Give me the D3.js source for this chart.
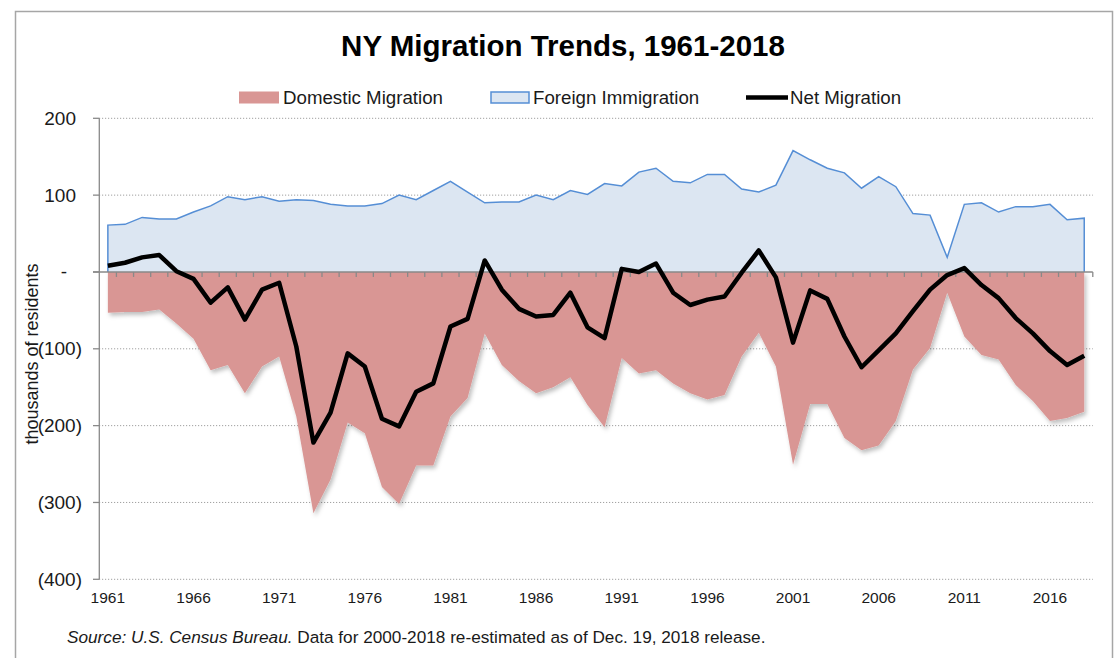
<!DOCTYPE html>
<html lang="en">
<head>
    <meta charset="UTF-8">
    <title>NY Migration Trends</title>
    <script src="https://d3js.org/d3.v7.min.js"></script>
    <style>
        body {
            margin: 0;
            padding: 0;
            background-color: #fff;
            font-family: "Liberation Sans", Arial, sans-serif;
        }
        svg {
            display: block;
        }
    </style>
</head>
<body>
    <svg id="chart" width="1119" height="658"></svg>
    <script>
        const years = [1961, 1962, 1963, 1964, 1965, 1966, 1967, 1968, 1969, 1970,
            1971, 1972, 1973, 1974, 1975, 1976, 1977, 1978, 1979, 1980,
            1981, 1982, 1983, 1984, 1985, 1986, 1987, 1988, 1989, 1990,
            1991, 1992, 1993, 1994, 1995, 1996, 1997, 1998, 1999, 2000,
            2001, 2002, 2003, 2004, 2005, 2006, 2007, 2008, 2009, 2010,
            2011, 2012, 2013, 2014, 2015, 2016, 2017, 2018];

        // thousands of residents
        const domestic = [-53, -52, -52, -49, -67, -87, -128, -121, -158, -123,
            -110, -188, -314, -270, -196, -210, -280, -302, -252, -252,
            -188, -164, -80, -121, -142, -158, -150, -137, -173, -202,
            -112, -132, -128, -145, -158, -166, -160, -110, -79, -123,
            -251, -172, -172, -216, -232, -226, -194, -127, -99, -27,
            -84, -108, -114, -147, -168, -194, -190, -182];

        const foreign = [61, 62, 71, 69, 69, 78, 86, 98, 94, 98,
            92, 94, 93, 88, 86, 86, 89, 100, 94, 106,
            118, 104, 90, 91, 91, 100, 94, 106, 101, 115,
            112, 130, 135, 118, 116, 127, 127, 108, 104, 113,
            158, 146, 135, 129, 109, 124, 111, 76, 74, 19,
            88, 90, 78, 85, 85, 88, 68, 70];

        const net = [8, 12, 19, 22, 1, -9, -40, -20, -62, -23,
            -14, -97, -222, -183, -106, -123, -191, -201, -156, -145,
            -71, -61, 15, -23, -48, -58, -56, -27, -72, -86,
            4, 0, 11, -27, -43, -36, -32, -1, 28, -7,
            -92, -24, -35, -84, -124, -102, -80, -51, -23, -4,
            5, -17, -34, -60, -80, -103, -121, -109];

        const xTickLabels = ["1961", "1966", "1971", "1976", "1981", "1986",
            "1991", "1996", "2001", "2006", "2011", "2016"];
        const yTicks = [200, 100, 0, -100, -200, -300, -400];

        const svg = d3.select("#chart");

        const x = d3.scaleBand()
            .domain(years)
            .range([99.3, 1092.8]);
        const cx = yr => x(yr) + x.bandwidth() / 2;

        const y = d3.scaleLinear()
            .domain([-400, 200])
            .range([579.3, 118.3]);

        const fmt = v => v === 0 ? "-" : (v < 0 ? `(${Math.abs(v)})` : `${v}`);

        // outer chart border
        svg.append("rect")
            .attr("x", 15.5).attr("y", 11.5)
            .attr("width", 1097).attr("height", 680)
            .attr("fill", "none")
            .attr("stroke", "#a6a6a6")
            .attr("stroke-width", 1.5);

        const defs = svg.append("defs");
        const shadow = defs.append("filter")
            .attr("id", "shadow")
            .attr("x", "-5%").attr("y", "-5%")
            .attr("width", "110%").attr("height", "115%");
        shadow.append("feDropShadow")
            .attr("dx", 2).attr("dy", 3)
            .attr("stdDeviation", 2)
            .attr("flood-color", "#000")
            .attr("flood-opacity", 0.25);

        // gridlines
        svg.append("g")
            .selectAll("line")
            .data(yTicks.filter(d => d !== 0))
            .join("line")
            .attr("x1", 99).attr("x2", 1092.8)
            .attr("y1", d => y(d)).attr("y2", d => y(d))
            .attr("stroke", "#a0a0a0")
            .attr("stroke-width", 1)
            .attr("stroke-dasharray", "1.2,1.8");

        const rows = years.map((yr, i) => ({
            year: yr, domestic: domestic[i], foreign: foreign[i], net: net[i]
        }));

        // domestic area
        svg.append("path")
            .datum(rows)
            .attr("fill", "#d99694")
            .attr("filter", "url(#shadow)")
            .attr("d", d3.area()
                .x(d => cx(d.year))
                .y0(y(0))
                .y1(d => y(d.domestic)));

        // foreign area
        svg.append("path")
            .datum(rows)
            .attr("fill", "#dce6f2")
            .attr("d", d3.area()
                .x(d => cx(d.year))
                .y0(y(0))
                .y1(d => y(d.foreign)));

        const outline = [{ year: years[0], foreign: 0 }, ...rows,
            { year: years[years.length - 1], foreign: 0 }];
        svg.append("path")
            .datum(outline)
            .attr("fill", "none")
            .attr("stroke", "#558ed5")
            .attr("stroke-width", 1.5)
            .attr("d", d3.line()
                .x(d => cx(d.year))
                .y(d => y(d.foreign)));

        // y axis
        const axisColor = "#898989";
        svg.append("line")
            .attr("x1", 99.3).attr("x2", 99.3)
            .attr("y1", y(200)).attr("y2", y(-400))
            .attr("stroke", axisColor).attr("stroke-width", 1.3);
        svg.append("g")
            .selectAll("line")
            .data(yTicks)
            .join("line")
            .attr("x1", 93).attr("x2", 99.3)
            .attr("y1", d => y(d)).attr("y2", d => y(d))
            .attr("stroke", axisColor).attr("stroke-width", 1.3);

        svg.append("g")
            .selectAll("text")
            .data(yTicks)
            .join("text")
            .attr("x", d => d === 0 ? 64 : (d > 0 ? 76 : 82))
            .attr("y", d => y(d) + 6.5)
            .attr("text-anchor", d => d === 0 ? "middle" : "end")
            .style("font-size", "19px")
            .attr("fill", "#1a1a1a")
            .text(fmt);

        svg.append("text")
            .attr("transform", `translate(38,354) rotate(-90)`)
            .attr("text-anchor", "middle")
            .style("font-size", "18px")
            .attr("fill", "#1a1a1a")
            .text("thousands of residents");

        // zero axis with category ticks
        svg.append("line")
            .attr("x1", 93).attr("x2", 1092.8)
            .attr("y1", y(0)).attr("y2", y(0))
            .attr("stroke", axisColor).attr("stroke-width", 1.5);
        svg.append("g")
            .selectAll("line")
            .data(years.slice(1).concat(["end"]))
            .join("line")
            .attr("x1", d => d === "end" ? 1092.8 : x(d))
            .attr("x2", d => d === "end" ? 1092.8 : x(d))
            .attr("y1", y(0)).attr("y2", y(0) + 5)
            .attr("stroke", axisColor).attr("stroke-width", 1.3);

        // net migration line
        svg.append("path")
            .datum(rows)
            .attr("fill", "none")
            .attr("stroke", "#000")
            .attr("stroke-width", 4.5)
            .attr("stroke-linejoin", "round")
            .attr("d", d3.line()
                .x(d => cx(d.year))
                .y(d => y(d.net)));

        // x labels
        svg.append("g")
            .selectAll("text")
            .data(xTickLabels)
            .join("text")
            .attr("x", d => cx(+d))
            .attr("y", 603)
            .attr("text-anchor", "middle")
            .style("font-size", "15.5px")
            .attr("fill", "#1a1a1a")
            .text(d => d);

        // title
        svg.append("text")
            .attr("x", 563)
            .attr("y", 56)
            .attr("text-anchor", "middle")
            .style("font-size", "29.5px")
            .style("font-weight", "bold")
            .attr("fill", "#000")
            .text("NY Migration Trends, 1961-2018");

        // legend
        const legend = svg.append("g").style("font-size", "18.7px");
        legend.append("rect")
            .attr("x", 239).attr("y", 91.5).attr("width", 40).attr("height", 12)
            .attr("fill", "#d99694");
        legend.append("text").attr("x", 283).attr("y", 104)
            .attr("fill", "#1a1a1a").text("Domestic Migration");
        legend.append("rect")
            .attr("x", 491).attr("y", 92).attr("width", 38).attr("height", 11)
            .attr("fill", "#dce6f2").attr("stroke", "#558ed5").attr("stroke-width", 1.5);
        legend.append("text").attr("x", 533).attr("y", 104)
            .attr("fill", "#1a1a1a").text("Foreign Immigration");
        legend.append("line")
            .attr("x1", 746).attr("x2", 788).attr("y1", 97.5).attr("y2", 97.5)
            .attr("stroke", "#000").attr("stroke-width", 4.5);
        legend.append("text").attr("x", 790).attr("y", 104)
            .attr("fill", "#1a1a1a").text("Net Migration");

        // source note
        const src = svg.append("text")
            .attr("x", 67).attr("y", 643)
            .style("font-size", "17.2px")
            .attr("fill", "#1a1a1a");
        src.append("tspan").style("font-style", "italic").text("Source: U.S. Census Bureau.");
        src.append("tspan").text(" Data for 2000-2018 re-estimated as of Dec. 19, 2018 release.");
    </script>
</body>
</html>
